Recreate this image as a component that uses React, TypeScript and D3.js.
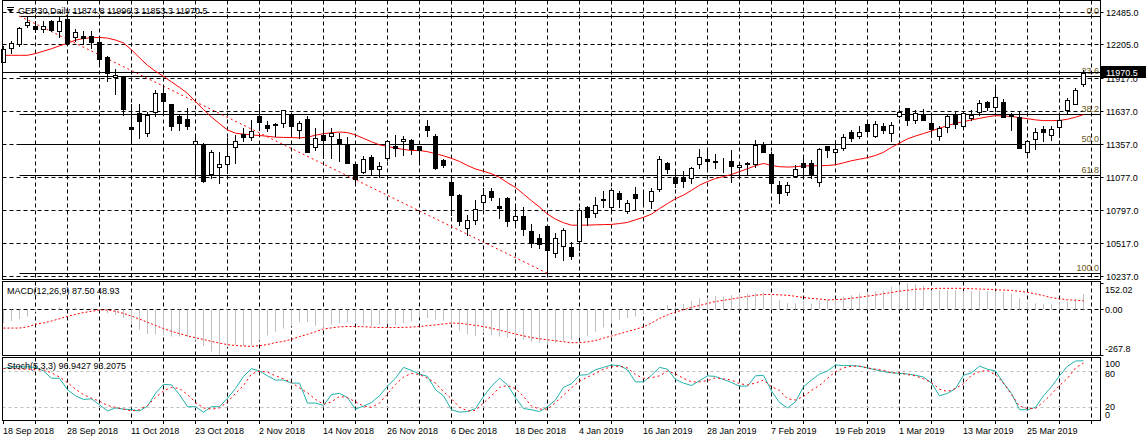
import React from "react";
import * as d3 from "d3";

const W = 1146;
const H = 441;

const dateLabels = ["18 Sep 2018","28 Sep 2018","11 Oct 2018","23 Oct 2018","2 Nov 2018","14 Nov 2018","26 Nov 2018","6 Dec 2018","18 Dec 2018","4 Jan 2019","16 Jan 2019","28 Jan 2019","7 Feb 2019","19 Feb 2019","1 Mar 2019","13 Mar 2019","25 Mar 2019"];
const priceTicks = [12485, 12205, 11917, 11637, 11357, 11077, 10797, 10517, 10237];

const openP = [12062,12175,12211,12378,12363,12340,12405,12320,12425,12269,
12280,12277,12226,12106,11929,11944,11504,11628,11457,11633,
11799,11699,11598,11579,11365,11365,11109,11171,11192,11337,
11448,11422,11604,11528,11536,11542,11619,11479,11576,11334,
11436,11428,11408,11365,11194,11128,11251,11149,11248,11348,
11385,11399,11342,11519,11433,11228,11043,10929,10653,10721,
10872,10963,10835,10906,10721,10750,10621,10568,10664,10439,
10499,10485,10539,10824,10773,10892,10824,10944,10795,10935,
10929,10880,10978,11205,11080,11080,11072,11192,11234,11220,
11214,11222,11166,11205,11192,11365,11280,11015,10957,11092,
11200,11200,11043,11348,11294,11328,11462,11428,11534,11433,
11519,11457,11598,11670,11564,11613,11542,11433,11508,11613,
11519,11585,11636,11722,11679,11718,11613,11593,11291,11405,
11493,11442,11508,11650,11707,11874.8];
const highP = [12194,12240,12354,12440,12411,12411,12417,12440,12431,12340,
12325,12325,12269,12111,11998,11944,11699,11699,11636,11821,
11861,11699,11613,11670,11442,11371,11314,11291,11414,11442,
11499,11570,11707,11556,11542,11656,11628,11556,11604,11499,
11564,11499,11457,11422,11200,11257,11271,11209,11399,11442,
11433,11405,11348,11570,11451,11234,11086,10935,10758,10886,
10986,10992,10901,10915,10829,10824,10681,10602,10673,10607,
10645,10530,10816,10835,10910,10966,10986,10963,10886,10995,
10944,10986,11263,11214,11143,11137,11171,11320,11320,11277,
11243,11314,11214,11214,11393,11376,11299,11051,11043,11186,
11271,11228,11328,11348,11393,11451,11485,11519,11562,11556,
11542,11547,11656,11670,11650,11662,11628,11513,11613,11633,
11641,11656,11735,11727,11855,11747,11628,11641,11399,11499,
11519,11513,11598,11756,11841,11996.3];
const lowP = [12058,12134,12192,12357,12314,12311,12320,12269,12211,12240,
12211,12183,12049,11898,11784,11613,11385,11414,11428,11598,
11628,11485,11485,11491,11086,11043,11072,11034,11115,11200,
11385,11399,11479,11470,11428,11508,11428,11414,11291,11314,
11243,11243,11220,11200,11015,11115,11109,11086,11228,11257,
11271,11280,11214,11428,11149,11166,10758,10673,10587,10681,
10807,10886,10730,10664,10658,10587,10487,10482,10268,10402,
10374,10382,10459,10673,10739,10829,10786,10824,10778,10801,
10852,10816,10966,11120,10995,11000,11029,11157,11149,11157,
11128,11043,11100,11109,11171,11291,10966,10858,10929,11080,
11086,11072,11006,11251,11222,11314,11385,11414,11451,11422,
11457,11391,11593,11522,11542,11564,11422,11393,11462,11499,
11513,11570,11613,11650,11641,11593,11479,11328,11280,11320,
11385,11399,11422,11622,11699,11853.3];
const closeP = [12169,12220,12346,12397,12342,12363,12334,12405,12220,12311,
12265,12226,12083,11969,11952,11662,11491,11556,11613,11799,
11727,11519,11542,11519,11385,11051,11299,11194,11257,11385,
11422,11476,11547,11499,11525,11656,11513,11542,11299,11414,
11399,11457,11365,11205,11063,11234,11149,11177,11391,11328,
11408,11322,11314,11479,11162,11186,10929,10709,10721,10809,
10929,10910,10821,10709,10750,10641,10521,10516,10465,10568,
10630,10410,10801,10739,10841,10890,10972,10892,10863,10906,
10927,10966,11234,11149,11029,11051,11157,11251,11222,11209,
11213,11180,11186,11194,11357,11299,11029,10949,11015,11149,
11171,11100,11320,11308,11320,11422,11414,11462,11470,11534,
11485,11525,11636,11564,11628,11564,11491,11499,11598,11536,
11628,11613,11713,11679,11764,11593,11604,11328,11385,11462,
11465,11493,11564,11741,11818,11970.5];
const maValues = [12117,12117,12117,12117,12132,12152,12173,12197,12220,12246,
12260,12267,12269,12263,12247,12222,12164,12096,12032,11981,
11938,11891,11844,11793,11724,11656,11592,11536,11482,11455,
11447,11441,11435,11429,11421,11419,11418,11415,11421,11438,
11451,11459,11465,11460,11440,11411,11382,11356,11341,11329,
11317,11308,11308,11298,11280,11263,11241,11215,11180,11151,
11132,11110,11079,11034,10993,10938,10881,10827,10768,10724,
10694,10673,10673,10674,10676,10678,10680,10687,10697,10719,
10740,10767,10814,10857,10898,10929,10969,11013,11044,11070,
11086,11104,11128,11153,11179,11198,11181,11170,11167,11170,
11177,11178,11179,11180,11187,11203,11221,11234,11247,11266,
11293,11335,11370,11407,11431,11452,11474,11498,11519,11539,
11553,11568,11581,11594,11604,11601,11597,11587,11578,11568,
11562,11562,11563,11574,11591,11613];
const macdMain = [-80,-70,-57,-42,-17,-6,6,11,11,10,
8,6,-6,-23,-32,-51,-89,-118,-143,-146,
-150,-158,-158,-162,-181,-213,-245,-267.8,-219,-207,
-213,-209,-181,-152,-131,-112,-99,-76,-74,-95,
-105,-89,-82,-74,-74,-89,-97,-89,-86,-93,
-80,-70,-48,-51,-61,-67,-89,-124,-146,-156,
-139,-150,-158,-165,-169,-177,-188,-194,-203,-196,
-184,-177,-165,-156,-131,-105,-82,-63,-51,-42,
-23,-10,6,25,15,32,48,63,67,78,
74,82,89,91,93,97,82,53,36,34,
48,32,51,55,59,72,82,91,101,105,
108,130,142,152.02,145,136,110,110,110,110,
105,105,108,105,105,101,91,63,44,34,
29,29,36,44,59,87.5];
const macdSignal = [-109,-109,-109,-102,-87,-79,-68,-55,-41,-30,
-19,-12,-4,-4,-12,-24,-40,-57,-75,-94,
-112,-128,-141,-154,-165,-175,-186,-196,-205,-210,
-213,-215,-211,-204,-193,-186,-174,-159,-145,-130,
-114,-108,-102,-100,-100,-101,-104,-106,-106,-106,
-105,-103,-100,-95,-91,-85,-80,-81,-87,-93,
-101,-110,-121,-132,-144,-154,-164,-171,-177,-182,
-188,-194,-193,-189,-181,-167,-155,-142,-129,-116,
-102,-80,-53,-33,-16,-3,10,22,33,45,
52,59,67,74,81,85,86,83,81,75,
68,63,59,54,56,58,64,69,76,82,
90,97,105,110,116,118,120,121,121,121,
121,119,117,116,113,111,109,104,98,89,
79,67,61,55,52,48.93];
const stochMain = [84,87,87,87,86,80,68,68,49,39,
33,34,24,14,19,17,16,14,22,43,
58,57,41,21,21,12,21,21,35,51,
71,84,80,72,65,65,60,60,27,27,
23,41,43,36,17,22,28,39,55,68,
86,81,75,71,49,39,16,12,13,18,
38,55,68,57,36,18,16,13,21,32,
53,59,73,74,82,86,90,89,82,62,
62,73,86,83,66,60,56,64,72,71,
66,61,55,55,72,73,47,28,19,29,
54,65,75,80,90,89,89,88,85,82,
79,77,76,75,73,70,60,39,43,51,
73,77,88,83,80,60,43,16,16,20,
39,54,72,88,96.5,96.9427];
const stochSignal = [84,84,83,83,82,82,77,70,61,50,
41,35,30,23,20,17,14,16,23,36,
47,53,51,41,28,19,17,19,29,43,
56,75,80,78,72,67,61,52,44,33,
25,29,38,36,29,22,20,27,42,58,
70,76,74,68,60,46,34,20,14,15,
27,39,53,56,51,38,22,17,17,28,
40,52,63,70,76,83,87,88,85,74,
68,69,72,80,75,68,62,62,64,69,
67,65,59,57,60,65,54,48,34,32,
38,48,56,68,79,85,88,88,85,83,
81,77,77,74,72,67,61,50,46,51,
59,73,79,81,74,60,41,22,18,18,
29,42,56,68,85,93.2075];

const fibLevels = [0, 23.6, 38.2, 50, 61.8, 100];
const fibAnchorPrices = [12451, 10264];
const fibAnchorBars = [2, 68];

const FONT = "'Liberation Sans', Arial, sans-serif";
const GRID_DASH = "4,3";

const cr = (v: number) => Math.floor(v) + 0.5;

export default function App() {
  const n = closeP.length;
  const x = d3.scaleLinear().domain([0, n - 1]).range([3.5, 3.5 + 8 * (n - 1)]);
  const yP = d3.scaleLinear().domain([10237, 12485]).range([276.5, 12]);
  const yM = d3.scaleLinear().domain([-267.8, 152.02]).range([355.5, 283]);
  const yS = d3.scaleLinear().domain([0, 100]).range([419.4, 358.9]);

  const L = 2.5, R = 1100.5;
  const panels = [
    { top: 0.5, bottom: 279.5 },
    { top: 281.5, bottom: 355.5 },
    { top: 357.5, bottom: 420.5 },
  ];

  const vGrid: number[] = [];
  for (let j = 1; 3.5 + 32 * j < 1100; j++) vGrid.push(3.5 + 32 * j);

  const maLine = d3.line<number>().x((_, i) => x(i)).y((d) => yP(d));
  const sigLine = d3.line<number>().x((_, i) => x(i)).y((d) => yM(d));
  const stLine = d3.line<number>().x((_, i) => x(i)).y((d) => yS(d));

  const fibP = (lv: number) => fibAnchorPrices[0] - (lv / 100) * (fibAnchorPrices[0] - fibAnchorPrices[1]);
  const lastClose = closeP[n - 1];
  const bidY = cr(yP(lastClose));

  return (
    <div style={{ position: "absolute", left: 0, top: 0, width: W, height: H, background: "#fff" }}>
      <svg width={W} height={H} style={{ display: "block" }} fontFamily={FONT} fontSize={9}>
        <rect x={0} y={0} width={W} height={H} fill="#fff" />
        {panels.map((p, pi) =>
          vGrid.map((gx) => (
            <line key={`vg${pi}-${gx}`} x1={gx} x2={gx} y1={p.top} y2={p.bottom} stroke="#000" strokeDasharray={GRID_DASH} />
          ))
        )}
        {priceTicks.map((t) => (
          <line key={`hg${t}`} x1={L} x2={R} y1={cr(yP(t))} y2={cr(yP(t))} stroke="#000" strokeDasharray={GRID_DASH} />
        ))}
        {fibLevels.map((lv) => (
          <line key={`fib${lv}`} x1={x(fibAnchorBars[0])} x2={R} y1={cr(yP(fibP(lv)))} y2={cr(yP(fibP(lv)))} stroke="#000" />
        ))}
        {fibLevels.map((lv) => (
          <text key={`fibt${lv}`} x={1099} y={cr(yP(fibP(lv))) - 2.5} textAnchor="end" fill="#6b5a22">{lv.toFixed(1)}</text>
        ))}
        <line x1={x(fibAnchorBars[0])} y1={yP(fibAnchorPrices[0])} x2={x(fibAnchorBars[1])} y2={yP(fibAnchorPrices[1])} stroke="#ff0000" strokeDasharray="2,3" />
        <line x1={L} x2={R} y1={bidY} y2={bidY} stroke="#000" />
        <path d={maLine(maValues) || ""} fill="none" stroke="#ff0000" strokeWidth={1} />
        {closeP.map((c, i) => {
          const o = openP[i];
          const cx = x(i);
          const yT = Math.round(yP(Math.max(o, c)));
          const yB = Math.round(yP(Math.min(o, c)));
          const bull = c >= o;
          return (
            <g key={`c${i}`}>
              <line x1={cx} x2={cx} y1={Math.round(yP(highP[i]))} y2={Math.round(yP(lowP[i])) + 1} stroke="#000" />
              <rect x={cx - 2} y={yT + 0.5} width={4} height={Math.max(yB - yT, 0)} fill={bull ? "#fff" : "#000"} stroke="#000" />
            </g>
          );
        })}
        <line x1={L} x2={R} y1={cr(yM(0))} y2={cr(yM(0))} stroke="#000" strokeDasharray={GRID_DASH} />
        {macdMain.map((v, i) => (
          <line key={`m${i}`} x1={x(i)} x2={x(i)} y1={cr(yM(0))} y2={yM(v)} stroke="#c0c0c0" />
        ))}
        <path d={sigLine(macdSignal) || ""} fill="none" stroke="#ff0000" strokeDasharray="2,2" />
        {[80, 20].map((lv) => (
          <line key={`sl${lv}`} x1={L} x2={R} y1={cr(yS(lv))} y2={cr(yS(lv))} stroke="#c0c0c0" strokeDasharray="3,3" />
        ))}
        <path d={stLine(stochMain) || ""} fill="none" stroke="#20b2aa" />
        <path d={stLine(stochSignal) || ""} fill="none" stroke="#ff0000" strokeDasharray="2,3" />
        {panels.map((p, pi) => (
          <rect key={`b${pi}`} x={L} y={p.top} width={R - L} height={p.bottom - p.top} fill="none" stroke="#000" />
        ))}
        <path d="M7,9 L14,9 L10.5,12.5 Z" fill="#000" />
        <line x1={7} x2={14} y1={7.5} y2={7.5} stroke="#000" />
        <text x={18} y={14}>GER30,Daily  11874.8 11996.3 11853.3 11970.5</text>
        <text x={7} y={294}>{`MACD(12,26,9) ${macdMain[n - 1].toFixed(2)} ${macdSignal[n - 1].toFixed(2)}`}</text>
        <text x={7} y={369.3}>{`Stoch(5,3,3) ${stochMain[n - 1].toFixed(4)} ${stochSignal[n - 1].toFixed(4)}`}</text>
        {priceTicks.map((t) => (
          <g key={`pt${t}`}>
            <line x1={R} x2={R + 3} y1={cr(yP(t))} y2={cr(yP(t))} stroke="#000" />
            <text x={1106} y={cr(yP(t)) + 3.3}>{t.toFixed(1)}</text>
          </g>
        ))}
        <rect x={1101} y={bidY - 6.5} width={45} height={12} fill="#000" />
        <text x={1106} y={bidY + 3.3} fill="#fff">{lastClose.toFixed(1)}</text>
        <text x={1105} y={cr(yM(152.02)) + 9.3}>152.02</text>
        <text x={1105} y={cr(yM(0)) + 3.3}>0.00</text>
        <text x={1105} y={cr(yM(-267.8)) - 3.7}>-267.8</text>
        {[152.02, 0, -267.8].map((v) => (
          <line key={`mt${v}`} x1={R} x2={R + 3} y1={cr(yM(v))} y2={cr(yM(v))} stroke="#000" />
        ))}
        <text x={1105} y={cr(yS(100)) + 8.5}>100</text>
        <text x={1105} y={cr(yS(80)) + 5}>80</text>
        <text x={1105} y={cr(yS(20)) + 2}>20</text>
        <text x={1105} y={418}>0</text>
        {vGrid.concat([3.5]).map((gx) => (
          <line key={`dt${gx}`} x1={gx} x2={gx} y1={420.5} y2={424} stroke="#000" />
        ))}
        {dateLabels.map((d, i) => (
          <text key={`d${i}`} x={x(i * 8) - 0.5} y={433.5}>{d}</text>
        ))}
      </svg>
    </div>
  );
}
